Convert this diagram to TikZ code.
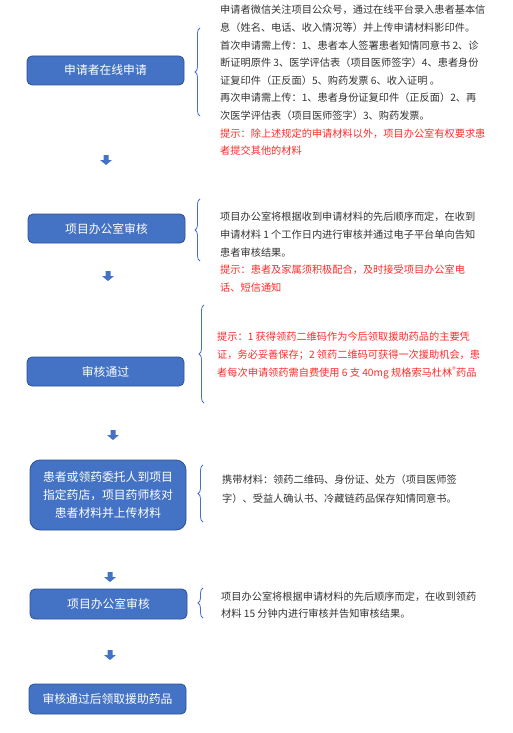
\documentclass[tikz,border=0pt]{standalone}
\usepackage{fontspec}
\newfontfamily\cjk{Noto Sans CJK SC}
\usetikzlibrary{decorations.pathreplacing}
\definecolor{boxfill}{HTML}{4472C4}
\definecolor{boxline}{HTML}{2F528F}
\definecolor{tipred}{HTML}{FF2B2B}
\definecolor{bodytext}{HTML}{333333}

\begin{document}
\begin{tikzpicture}[
  x=1pt, y=-1pt,
  stepbox/.style={draw=boxline, fill=boxfill, line width=0.8pt, rounded corners=5pt,
    minimum width=157pt, minimum height=29pt, align=center, text=white,
    font=\cjk\fontsize{11.8}{18.3}\selectfont},
  note/.style={anchor=north west, inner sep=0pt, align=left, text=bodytext,
    font=\cjk\fontsize{10.2}{17.6}\selectfont},
  curly/.style={draw=boxfill, line width=0.8pt, decorate, decoration={brace, amplitude=5pt}},
  dnarrow/.pic={\fill[boxfill] (-2.5,-5) -- (2.5,-5) -- (2.5,0) -- (6,0) -- (0,5) -- (-6,0) -- (-2.5,0) -- cycle;}
]
\useasboundingbox (0,0) rectangle (512,733);

% step 1
\node[stepbox] (apply) at (105.5,70.5) {申请者在线申请};
\node[note] (applynote) at (220,5) {
  申请者微信关注项目公众号，通过在线平台录入患者基本信\\
  息（姓名、电话、收入情况等）并上传申请材料影印件。\\
  首次申请需上传：1、患者本人签署患者知情同意书 2、诊\\
  断证明原件 3、医学评估表（项目医师签字）4、患者身份\\
  证复印件（正反面）5、购药发票 6、收入证明 。\\
  再次申请需上传：1、患者身份证复印件（正反面）2、再\\
  次医学评估表（项目医师签字）3、购药发票。\\
  \textcolor{tipred}{提示：除上述规定的申请材料以外，项目办公室有权要求患}\\
  \textcolor{tipred}{者提交其他的材料}
};
\draw[curly] (200,116) -- (200,28);
\pic (arr1) at (106,160) {dnarrow};

% step 2
\node[stepbox] (review) at (106.5,228.5) {项目办公室审核};
\node[note] (reviewnote) at (220,212) {
  项目办公室将根据收到申请材料的先后顺序而定，在收到\\
  申请材料 1 个工作日内进行审核并通过电子平台单向告知\\
  患者审核结果。\\
  \textcolor{tipred}{提示：患者及家属须积极配合，及时接受项目办公室电}\\
  \textcolor{tipred}{话、短信通知}
};
\draw[curly] (200,261) -- (200,199);
\pic (arr2) at (108,276) {dnarrow};

% step 3
\node[stepbox] (pass) at (105.5,371.5) {审核通过};
\node[note, text=tipred] (passnote) at (217,332) {
  提示：1 获得领药二维码作为今后领取援助药品的主要凭\\
  证，务必妥善保存；2 领药二维码可获得一次援助机会，患\\
  者每次申请领药需自费使用 6 支 40mg 规格索马杜林\textsuperscript{®}药品
};
\draw[curly] (204,403) -- (204,305);
\pic (arr3) at (113,435) {dnarrow};

% step 4
\node[stepbox, minimum width=156pt, minimum height=70pt, rounded corners=10pt] (store) at (108,495) {
  患者或领药委托人到项目\\指定药店，项目药师核对\\患者材料并上传材料
};
\node[note, font=\cjk\fontsize{10.2}{18.2}\selectfont] (storenote) at (222,475) {
  携带材料：领药二维码、身份证、处方（项目医师签\\
  字）、受益人确认书、冷藏链药品保存知情同意书。
};
\draw[curly] (203,522) -- (203,465);
\pic (arr4) at (110,577) {dnarrow};

% step 5
\node[stepbox, minimum height=30pt] (review2) at (108.5,604) {项目办公室审核};
\node[note, font=\cjk\fontsize{10.2}{16.7}\selectfont] (review2note) at (221,592) {
  项目办公室将根据申请材料的先后顺序而定，在收到领药\\
  材料 15 分钟内进行审核并告知审核结果。
};
\draw[curly] (203,618) -- (203,588);
\pic (arr5) at (110,655) {dnarrow};

% step 6
\node[stepbox, minimum height=30pt] (receive) at (107.5,699) {审核通过后领取援助药品};
\end{tikzpicture}
\end{document}
